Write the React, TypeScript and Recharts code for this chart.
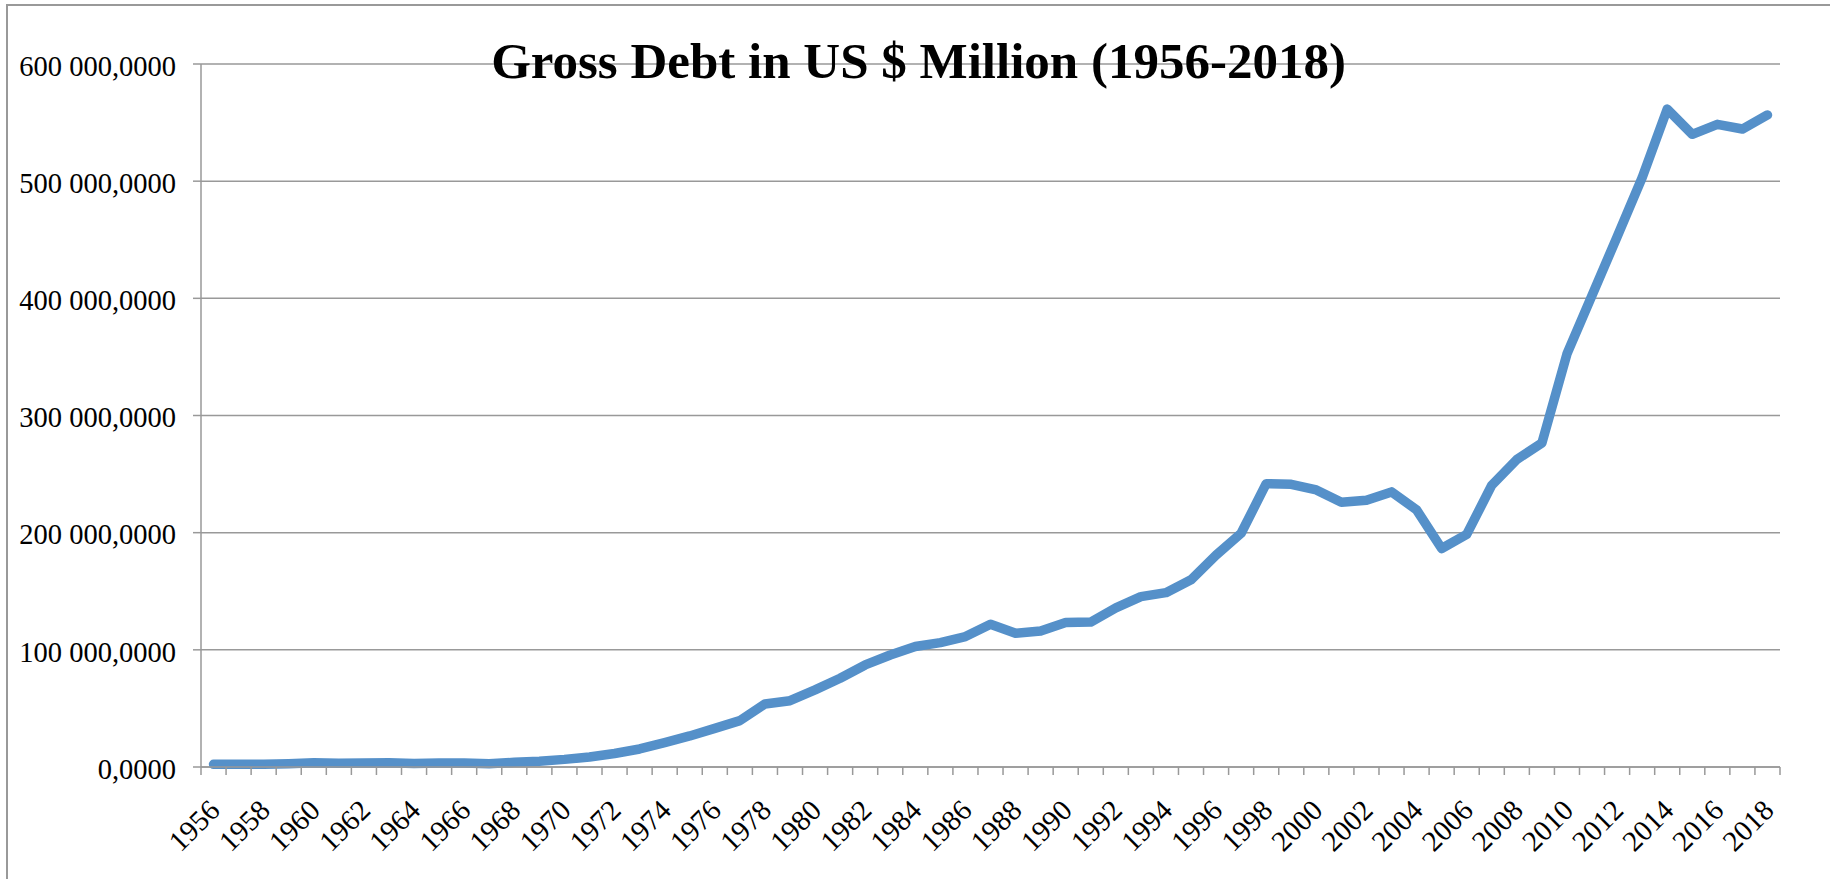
import { LineChart, Line, XAxis, YAxis, CartesianGrid } from 'recharts';

const years = [
  1956, 1957, 1958, 1959, 1960, 1961, 1962, 1963, 1964, 1965, 1966, 1967, 1968, 1969,
  1970, 1971, 1972, 1973, 1974, 1975, 1976, 1977, 1978, 1979, 1980, 1981, 1982, 1983,
  1984, 1985, 1986, 1987, 1988, 1989, 1990, 1991, 1992, 1993, 1994, 1995, 1996, 1997,
  1998, 1999, 2000, 2001, 2002, 2003, 2004, 2005, 2006, 2007, 2008, 2009, 2010, 2011,
  2012, 2013, 2014, 2015, 2016, 2017, 2018,
];

// gross debt, US $ million
const debt = [
  2300, 2300, 2300, 2800, 3700, 3200, 3500, 3700, 3000, 3500, 3500, 2800, 4000, 5000,
  6500, 8500, 11500, 15400, 20800, 26500, 33000, 39600, 53800, 56600, 65800, 75700, 87100, 95600,
  102800, 106200, 111300, 121800, 114100, 116100, 123400, 123700, 135800, 145400, 148800, 159800, 180900, 199500,
  241800, 241300, 236500, 226000, 227700, 234800, 219500, 186500, 198500, 240500, 262500, 276500, 352500, 402500,
  452500, 503000, 561500, 540000, 548500, 544500, 556500,
];

const yTicks = [0, 100000, 200000, 300000, 400000, 500000, 600000];
const yTickLabels = ['0,0000', '100 000,0000', '200 000,0000', '300 000,0000', '400 000,0000', '500 000,0000', '600 000,0000'];

const data = years.map((year, i) => ({ year, debt: debt[i] }));

// tick marks sit between the years, labels on every second year
const boundaries = [...years.map((y) => y - 0.5), years[years.length - 1] + 0.5];
const labelYears = years.filter((y) => y % 2 === 0);
const xTicks = [...boundaries, ...labelYears].sort((a, b) => a - b);

const FONT = '"Liberation Serif", "Times New Roman", serif';
const GRID = '#999999';

const XTick = ({ x, y, payload }: any) => {
    const v = payload.value;
    if (!Number.isInteger(v)) {
        return <line x1={x} x2={x} y1={y} y2={y + 8} stroke={GRID} strokeWidth={1.5} />;
    }
    const bx = x + 8;
    const by = y + 45;
    return (
        <text
            x={bx}
            y={by}
            textAnchor="end"
            transform={`rotate(-45 ${bx} ${by})`}
            fontFamily={FONT}
            fontSize={29}
            fill="#000"
        >
            {v}
        </text>
    );
};

const YTick = ({ x, y, payload }: any) => (
    <text x={x} y={y} dy={11.7} textAnchor="end" fontFamily={FONT} fontSize={28.5} fill="#000">
        {yTickLabels[yTicks.indexOf(payload.value)]}
    </text>
);

export default function App() {
    return (
        <div style={{ position: 'absolute', left: 0, top: 0, width: 1830, height: 879, background: '#fff', overflow: 'hidden' }}>
            <div
                style={{
                    position: 'absolute',
                    left: 6,
                    top: 4,
                    right: -10,
                    bottom: -10,
                    borderLeft: `2px solid ${GRID}`,
                    borderTop: `2px solid ${GRID}`,
                }}
            />
            <div style={{ position: 'absolute', left: 0, top: 0 }}>
                <LineChart width={1830} height={879} data={data} margin={{ top: 64, right: 50, bottom: 0, left: 0 }}>
                    <CartesianGrid horizontal vertical={false} stroke={GRID} strokeWidth={1.5} />
                    <XAxis
                        dataKey="year"
                        type="number"
                        domain={[1955.5, 2018.5]}
                        ticks={xTicks}
                        interval={0}
                        height={112}
                        tickSize={0}
                        tickMargin={0}
                        tickLine={false}
                        axisLine={{ stroke: GRID, strokeWidth: 1.5 }}
                        tick={<XTick />}
                    />
                    <YAxis
                        domain={[0, 600000]}
                        ticks={yTicks}
                        interval={0}
                        width={201}
                        tickSize={8}
                        tickMargin={17}
                        tickLine={{ stroke: GRID, strokeWidth: 1.5 }}
                        axisLine={{ stroke: GRID, strokeWidth: 1.5 }}
                        tick={<YTick />}
                    />
                    <Line
                        type="linear"
                        dataKey="debt"
                        stroke="#5590C9"
                        strokeWidth={9.5}
                        strokeLinecap="round"
                        strokeLinejoin="round"
                        dot={false}
                        isAnimationActive={false}
                    />
                </LineChart>
            </div>
            <div
                style={{
                    position: 'absolute',
                    left: 0,
                    top: 36,
                    width: 1837,
                    textAlign: 'center',
                    fontFamily: FONT,
                    fontWeight: 'bold',
                    fontSize: 51,
                    lineHeight: '50px',
                    color: '#000',
                    whiteSpace: 'nowrap',
                }}
            >
                Gross Debt in US $ Million (1956-2018)
            </div>
        </div>
    );
}
